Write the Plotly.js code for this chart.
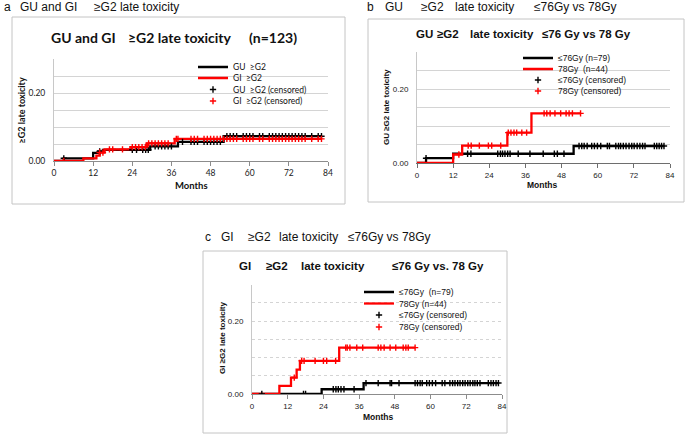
<!DOCTYPE html>
<html><head><meta charset="utf-8">
<script src="https://cdn.plot.ly/plotly-3.0.1.min.js"></script>
<style>html,body{margin:0;padding:0;background:#fff}#chart{width:685px;height:434px}</style>
</head><body><div id="chart"></div>
<script>
// ---------------- data ----------------
const monthTicks = [0, 12, 24, 36, 48, 60, 72, 84];
const yTickVals = [0, 0.2];
const yTickText = ['0.00', '0.20'];

// Panel a : GU and GI >=G2 late toxicity (n=123)
const aGuTimes = [0, 3, 12, 13.5, 15, 29.5, 38, 52, 82];
const aGuRisk  = [0, 0.008, 0.024, 0.028, 0.033, 0.043, 0.056, 0.073, 0.073];
const aGiTimes = [0, 9, 13, 14, 15.5, 23.5, 28.5, 37, 82];
const aGiRisk  = [0, 0.008, 0.016, 0.025, 0.034, 0.041, 0.052, 0.065, 0.065];
const aGuCens = [3, 14, 24, 25.3, 27.2, 28.1, 28.9, 31, 32, 33, 34, 35, 36, 39.4, 42, 43, 44, 46, 47, 48, 49, 50, 51, 53, 54, 55, 56, 58, 59, 60, 61, 63, 64, 66, 67, 68, 69, 70, 71, 72, 73, 74, 75, 76, 77, 79, 81, 82];
const aGiCens = [3, 14, 15, 17, 18, 21, 24, 25, 26, 27, 28, 29, 30, 31, 32, 33, 34, 35, 37.5, 38, 42, 43, 44, 46, 47, 48, 49, 50, 51, 52, 53, 54, 55, 56, 58, 59, 60, 61, 63, 64, 66, 67, 68, 69, 70, 71, 72, 73, 74, 75, 76, 77, 79, 81, 82];

// Panel b : GU >=G2, <=76 Gy vs 78 Gy
const bLowTimes  = [0, 3, 12, 52, 82];
const bLowRisk   = [0, 0.013, 0.025, 0.046, 0.046];
const bHighTimes = [0, 12, 15, 30, 38, 54.3];
const bHighRisk  = [0, 0.023, 0.047, 0.082, 0.134, 0.134];
const bLowCens  = [3, 16.8, 17.9, 26.8, 27.7, 28.4, 29.2, 30.1, 30.9, 33.6, 37.5, 41.9, 45.6, 46.6, 48.8, 53.8, 54.7, 55.5, 56.5, 58, 58.9, 59.9, 61, 63.2, 63.9, 66, 66.9, 67.6, 68.5, 69.4, 70.4, 71.3, 72.1, 73.1, 74, 74.9, 75.7, 78.8, 79.6, 80.4, 81.2, 82];
const bHighCens = [13.9, 17, 18, 20.7, 23.7, 24.8, 27.8, 30.3, 31.2, 32.2, 33.1, 34.8, 36.4, 42.2, 43.1, 44.2, 45.8, 47.7, 49.5, 50.5, 51.6, 54.3];

// Panel c : GI >=G2, <=76 Gy vs 78 Gy
const cLowTimes  = [0, 23.4, 37.5, 82.8];
const cLowRisk   = [0, 0.013, 0.030, 0.030];
const cHighTimes = [0, 9.2, 13.1, 15, 16.1, 29.3, 54.8];
const cHighRisk  = [0, 0.022, 0.045, 0.067, 0.091, 0.127, 0.127];
const cLowCens  = [3.3, 17.3, 18, 27.3, 28.2, 29, 29.9, 30.9, 34.3, 38.3, 42.4, 46.4, 46.9, 49.4, 54.8, 55.6, 56.5, 57.2, 58.7, 59.6, 60.6, 61.7, 63.9, 64.8, 66.5, 67.4, 68.2, 69.1, 69.9, 70.8, 71.6, 72.5, 73.3, 74.2, 74.9, 75.7, 76.6, 79.4, 80.3, 81.1, 82, 82.8];
const cHighCens = [14.2, 16.7, 17.5, 21.2, 24, 25.1, 28.1, 31.5, 32, 32.9, 35.2, 37.2, 42.4, 43.3, 44.4, 46.4, 48.3, 50.8, 51.7, 52.5, 54.8];

// ---------------- helpers ----------------
const W = 685, H = 434;
const px = x => x / W;
const py = y => 1 - y / H;
function stepAt(T, V, t) { let v = V[0]; for (let i = 0; i < T.length; i++) { if (T[i] <= t) v = V[i]; } return v; }

const FA = 'Lato, "Liberation Sans", sans-serif';
const FB = '"Liberation Sans", Arial, sans-serif';
const BLACK = '#000000', RED = '#ff0000';

const traces = [];
let legendCount = 0;
const layoutLegends = {};
function legendId() { legendCount++; return legendCount === 1 ? 'legend' : 'legend' + legendCount; }

function addPanel(ax, font, fsize, lines, cens, legX, legRows) {
  const xa = ax === 1 ? 'x' : 'x' + ax, ya = ax === 1 ? 'y' : 'y' + ax;
  const items = [];
  lines.forEach(l => {
    items.push({type: 'scatter', mode: 'lines', x: l.T, y: l.V, xaxis: xa, yaxis: ya, name: l.name,
      line: {shape: 'hv', color: l.color, width: 2.3}, hoverinfo: 'skip'});
  });
  cens.forEach(c => {
    items.push({type: 'scatter', mode: 'markers', x: c.t, y: c.t.map(t => stepAt(c.T, c.V, t)), xaxis: xa, yaxis: ya, name: c.name,
      marker: {symbol: 'cross-thin', size: 4.5, color: c.color, line: {color: c.color, width: 1.4}}, hoverinfo: 'skip'});
  });
  items.forEach((tr, i) => {
    const id = legendId();
    tr.legend = id;
    traces.push(tr);
    layoutLegends[id] = {x: px(legX), y: py(legRows[i]), xanchor: 'left', yanchor: 'middle',
      bgcolor: 'rgba(0,0,0,0)', borderwidth: 0, itemwidth: 30,
      font: {family: font, size: fsize, color: '#111'}};
  });
}

const S = '\u00a0';
addPanel(1, FA, 8.5,
  [{T: aGuTimes, V: aGuRisk, color: BLACK, name: 'GU' + S + S + '≥G2'},
   {T: aGiTimes, V: aGiRisk, color: RED, name: 'GI' + S + S + '≥G2'}],
  [{t: aGuCens, T: aGuTimes, V: aGuRisk, color: BLACK, name: 'GU' + S + S + '≥G2 (censored)'},
   {t: aGiCens, T: aGiTimes, V: aGiRisk, color: RED, name: 'GI' + S + S + '≥G2 (censored)'}],
  193, [67, 78, 89.5, 101]);
addPanel(2, FB, 8.5,
  [{T: bLowTimes, V: bLowRisk, color: BLACK, name: '≤76Gy (n=79)'},
   {T: bHighTimes, V: bHighRisk, color: RED, name: '78Gy' + S + S + '(n=44)'}],
  [{t: bLowCens, T: bLowTimes, V: bLowRisk, color: BLACK, name: '≤76Gy (censored)'},
   {t: bHighCens, T: bHighTimes, V: bHighRisk, color: RED, name: '78Gy (censored)'}],
  518, [58, 69, 80, 91]);
addPanel(3, FB, 8.5,
  [{T: cLowTimes, V: cLowRisk, color: BLACK, name: '≤76Gy' + S + S + '(n=79)'},
   {T: cHighTimes, V: cHighRisk, color: RED, name: '78Gy (n=44)'}],
  [{t: cLowCens, T: cLowTimes, V: cLowRisk, color: BLACK, name: '≤76Gy (censored)'},
   {t: cHighCens, T: cHighTimes, V: cHighRisk, color: RED, name: '78Gy (censored)'}],
  359, [292, 303.5, 315, 327]);

function xAxis(x0, x1, font, fsize, lineColor) {
  return {domain: [px(x0), px(x1)], range: [0, 84], tickvals: monthTicks, showgrid: false, zeroline: false,
    showline: true, linecolor: lineColor, linewidth: 1, ticks: 'outside', ticklen: 4, tickcolor: lineColor,
    tickfont: {family: font, size: fsize, color: '#222'}, fixedrange: true};
}
function yAxis(y0, y1, font, fsize, gridDash) {
  return {domain: [py(y0), py(y1)], range: [0, 0.3], tickvals: yTickVals, ticktext: yTickText,
    showgrid: true, gridcolor: '#d4d4d4', griddash: gridDash, gridwidth: 1,
    minor: {tickvals: [0.05, 0.1, 0.15, 0.25, 0.3], showgrid: true, gridcolor: '#d4d4d4', griddash: gridDash, gridwidth: 1, ticks: ''},
    zeroline: false, showline: true, linecolor: '#c8c8c8', linewidth: 1, ticks: '', ticklabelstandoff: 6,
    tickfont: {family: font, size: fsize, color: '#222'}, fixedrange: true};
}

function ann(text, x, y, font, size, bold, opts) {
  return Object.assign({text: bold ? '<b>' + text + '</b>' : text, x: px(x), y: py(y), xref: 'paper', yref: 'paper',
    xanchor: 'left', yanchor: 'middle', showarrow: false, font: {family: font, size: size, color: '#111'}}, opts || {});
}

const annotations = [
  // outer panel labels
  ann('a', 2, 7, FB, 12, false), ann('GU and GI', 18, 7, FB, 12, false), ann('≥G2 late toxicity', 92, 7, FB, 12, false),
  ann('b', 365, 7, FB, 12, false), ann('GU', 383, 7, FB, 12, false), ann('≥G2', 419, 7, FB, 12, false),
  ann('late toxicity', 453, 7, FB, 12, false), ann('≤76Gy vs 78Gy', 532, 7, FB, 12, false),
  ann('c', 203, 237, FB, 12, false), ann('GI', 219, 237, FB, 12, false), ann('≥G2', 246, 237, FB, 12, false),
  ann('late toxicity', 277, 237, FB, 12, false), ann('≤76Gy vs 78Gy', 346, 237, FB, 12, false),
  // chart titles
  ann('GU and GI', 49, 37, FA, 14, true), ann('≥G2 late toxicity', 125.5, 37, FA, 14, true), ann('(n=123)', 247, 37, FA, 14, true),
  ann('GU', 414, 34, FB, 11.5, true), ann('≥G2', 435, 34, FB, 11.5, true), ann('late toxicity', 468, 34, FB, 11.5, true),
  ann('≤76 Gy vs 78 Gy', 540, 34, FB, 11.5, true),
  ann('GI', 237, 266, FB, 11.5, true), ann('≥G2', 264, 266, FB, 11.5, true), ann('late toxicity', 299, 266, FB, 11.5, true),
  ann('≤76 Gy vs. 78 Gy', 390, 266, FB, 11.5, true),
  // axis titles
  ann('Months', 191.5, 185, FA, 9.5, true, {xanchor: 'center'}),
  ann('Months', 542, 185, FB, 8.5, true, {xanchor: 'center'}),
  ann('Months', 378, 417, FB, 8.5, true, {xanchor: 'center'}),
  ann('≥G2 late toxicity', 21, 110.5, FA, 9, true, {xanchor: 'center', textangle: -90}),
  ann('GU ≥G2 late toxicity', 386, 107, FB, 8, true, {xanchor: 'center', textangle: -90}),
  ann('GI ≥G2 late toxicity', 222, 338, FB, 8, true, {xanchor: 'center', textangle: -90})
];

function rect(x0, y0, x1, y1, style) {
  return Object.assign({type: 'rect', xref: 'paper', yref: 'paper', x0: px(x0), x1: px(x1), y0: py(y0), y1: py(y1)}, style);
}
const frame = {line: {color: '#c4c4c4', width: 1}, fillcolor: 'rgba(0,0,0,0)', layer: 'below'};
const legBg = {line: {width: 0}, fillcolor: '#ffffff', layer: 'between'};
const shapes = [
  rect(12, 17, 345, 204, frame),
  rect(368, 19, 684, 202, frame),
  rect(203, 251, 507, 433, frame),
  rect(205, 62, 312, 106, legBg),
  rect(523, 55, 623, 96, legBg),
  rect(372, 289, 472, 333, legBg)
];

const layout = Object.assign({
  width: W, height: H, margin: {l: 0, r: 0, t: 0, b: 0},
  paper_bgcolor: '#ffffff', plot_bgcolor: 'rgba(0,0,0,0)', showlegend: true,
  xaxis: xAxis(54, 328, FA, 8.5, '#8c8c8c'),
  yaxis: yAxis(161, 59, FA, 8.5, 'solid'),
  xaxis2: Object.assign(xAxis(417, 670, FB, 8, '#6e6e6e'), {anchor: 'y2'}),
  yaxis2: Object.assign(yAxis(163, 52, FB, 8, 'solid'), {anchor: 'x2'}),
  xaxis3: Object.assign(xAxis(252, 502, FB, 8, '#8c8c8c'), {anchor: 'y3'}),
  yaxis3: Object.assign(yAxis(394, 284.5, FB, 8, 'dot'), {anchor: 'x3'}),
  annotations: annotations, shapes: shapes
}, layoutLegends);

Plotly.newPlot('chart', traces, layout, {staticPlot: true, displayModeBar: false});
</script>
</body></html>
